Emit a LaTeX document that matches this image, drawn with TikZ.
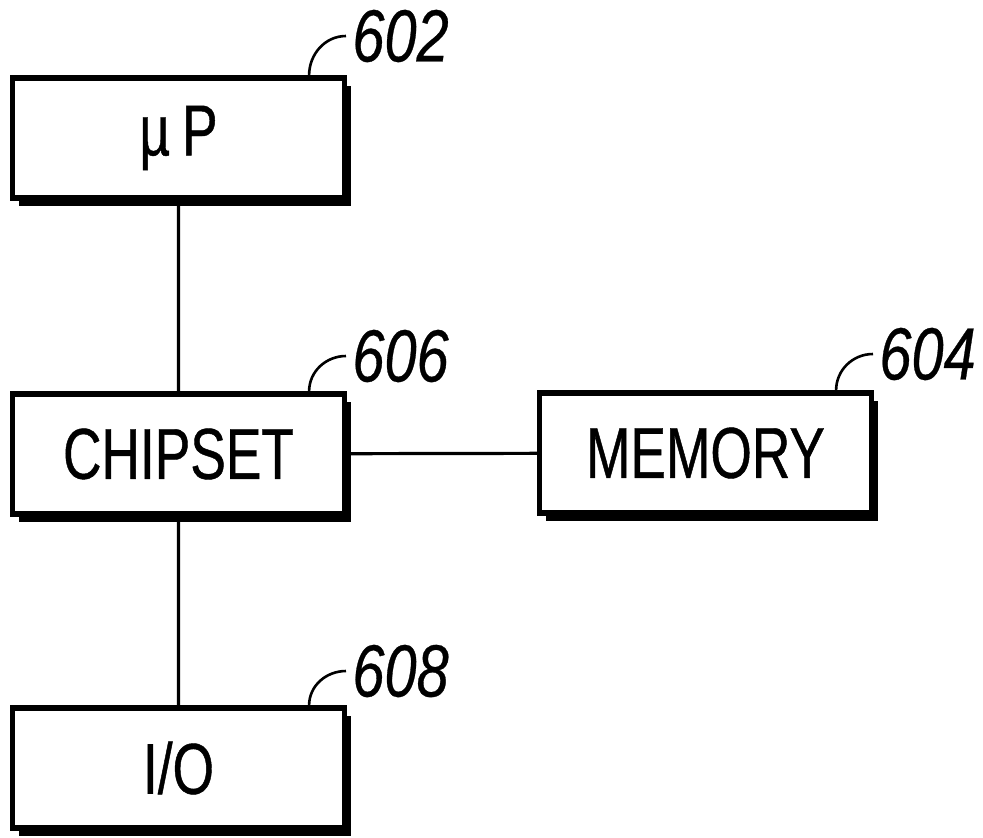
\documentclass[tikz,border=0pt]{standalone}
\usepackage{fontspec}
\newfontfamily\boxfont[FakeStretch=0.74,FakeBold=0.6]{Liberation Sans}
\newfontfamily\numfont[FakeStretch=0.78,FakeBold=0.4]{Liberation Sans}
\usepackage{tikz}
\usetikzlibrary{shadows}
\tikzset{
  blk/.style={draw,line width=2.6pt,fill=white,minimum width=166pt,minimum height=60pt,
    inner sep=0pt,font=\boxfont\fontsize{36}{40}\selectfont,
    drop shadow={shadow xshift=3pt,shadow yshift=-4pt,opacity=1,fill=black}},
  bus/.style={line width=1.6pt},
  lead/.style={line width=1.3pt},
  refnum/.style={anchor=west,inner xsep=3pt,inner ysep=1pt,font=\numfont\itshape\fontsize{37}{40}\selectfont}
}
\begin{document}
\begin{tikzpicture}[x=0.5pt,y=-0.5pt]
\useasboundingbox (0,0) rectangle (983,837);
\node[blk](up) at (178.5,138){µ\hspace{6pt}P};
\node[blk](chip) at (178.5,454){CHIPSET};
\node[blk](mem) at (705.5,453){MEMORY};
\node[blk](io) at (178.5,768){I/O};
\draw[bus](up)--(chip)
(chip)--(mem)
(chip)--(io);
\node[refnum](n602) at (346,36){602};
\node[refnum](n606) at (346,356){606};
\node[refnum](n604) at (873,354){604};
\node[refnum](n608) at (346,671){608};
\draw[lead]([xshift=-19pt]up.north east) to[out=90,in=180] (n602.west);
\draw[lead]([xshift=-19pt]chip.north east) to[out=90,in=180] (n606.west);
\draw[lead]([xshift=-19pt]mem.north east) to[out=90,in=180] (n604.west);
\draw[lead]([xshift=-19pt]io.north east) to[out=90,in=180] (n608.west);
\end{tikzpicture}
\end{document}
